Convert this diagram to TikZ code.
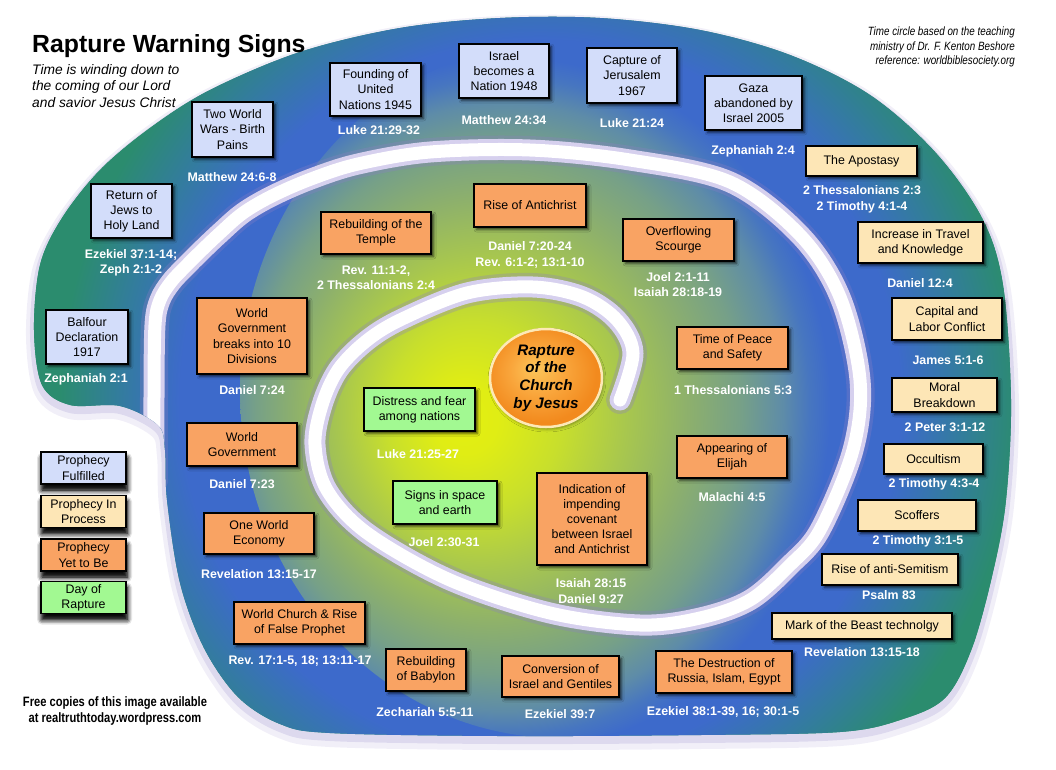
\documentclass[tikz,border=0pt]{standalone}
\usepackage{fontspec}
\setmainfont{Liberation Sans}
\newfontfamily\narrowfont[FakeStretch=0.82]{Liberation Sans}
\usetikzlibrary{shapes.geometric, shadows.blur}

% colours
\definecolor{colFulfilled}{HTML}{D3DDFA}
\definecolor{colProcess}{HTML}{FDE6B6}
\definecolor{colYetBe}{HTML}{F9A363}
\definecolor{colRapture}{HTML}{A2F992}
\definecolor{bandteal}{HTML}{2B8C6E}
\definecolor{bandblue}{HTML}{3D6ACB}
\definecolor{bandmid}{HTML}{337C9E}
\definecolor{groovedark}{HTML}{8C7EC6}
\definecolor{groovelight}{HTML}{D6D0EE}
\definecolor{raptrim}{HTML}{FDE9B6}

% the edge of a shaded ellipse sits at 25bp
\pgfdeclareradialshading{outerband}{\pgfpointorigin}{color(0bp)=(bandblue); color(15bp)=(bandblue); color(17.5bp)=(bandmid); color(20bp)=(bandteal); color(50bp)=(bandteal)}
\pgfdeclareradialshading{innerglow}{\pgfpoint{-7.8bp}{-2.2bp}}{color(0bp)=(rgb,255:red,228;green,239;blue,16); color(2.5bp)=(rgb,255:red,224;green,237;blue,20); color(6.8bp)=(rgb,255:red,200;green,223;blue,44); color(11.2bp)=(rgb,255:red,168;green,199;blue,78); color(15.4bp)=(rgb,255:red,141;green,176;blue,108); color(19bp)=(rgb,255:red,118;green,160;blue,136); color(21.8bp)=(rgb,255:red,94;green,140;blue,168); color(23.6bp)=(rgb,255:red,71;green,118;blue,192); color(25bp)=(bandblue); color(50bp)=(bandblue)}
\pgfdeclareradialshading{rapturefill}{\pgfpoint{-5bp}{5bp}}{color(0bp)=(rgb,255:red,252;green,198;blue,90); color(12bp)=(rgb,255:red,249;green,166;blue,60); color(25bp)=(rgb,255:red,242;green,138;blue,30); color(50bp)=(rgb,255:red,242;green,138;blue,30)}

\tikzset{
  signbox/.style={draw=black, line width=1.1pt, align=center, inner sep=1pt,
    font=\fontsize{12.4}{15.2}\selectfont,
    blur shadow={shadow xshift=2.5pt, shadow yshift=-2.5pt, shadow blur radius=2.5pt, shadow opacity=70}},
  boxsize/.style 2 args={minimum width=#1pt, minimum height=#2pt},
  fulfilled/.style={signbox, fill=colFulfilled},
  inprocess/.style={signbox, fill=colProcess},
  yetbe/.style={signbox, fill=colYetBe},
  rapturebox/.style={signbox, fill=colRapture},
  legendbox/.style={signbox, inner sep=0pt, boxsize={85}{32},
    blur shadow={shadow xshift=1pt, shadow yshift=-6pt, shadow blur radius=5pt, shadow opacity=85}},
  verse/.style={text=white, align=center, inner sep=0pt, font=\bfseries\fontsize{12.4}{15.5}\selectfont},
  groovehalo/.style={draw=groovedark, line width=28pt, opacity=0.3, line cap=round, line join=round},
  grooveedge/.style={draw=groovelight, line width=21pt, line cap=round, line join=round},
  groovecore/.style={draw=white, line width=13pt, line cap=round, line join=round},
}

\def\blobpath{plot[smooth cycle, tension=0.55] coordinates {(158,425) (120,406) (70,405) (42,385) (34,330) (40,265) (62,218) (100,170) (150,128) (210,90) (300,52) (400,28) (500,18) (600,18) (700,30) (790,55) (870,95) (935,152) (982,218) (1003,285) (1011,400) (1006,500) (993,572) (972,648) (945,698) (900,720) (840,732) (700,735) (500,736) (330,733) (280,724) (238,697) (204,648) (180,583) (167,500) (165,450)}}
\def\groovepath{plot[smooth, tension=0.55] coordinates {(154,480) (154,397) (155,325) (160,300) (171,282) (185,267) (201,251) (220,233) (243,213) (272,196) (311,179) (358,164) (430,152) (530,150) (630,160) (730,182) (800,235) (840,297) (860,380) (853,450) (820,530) (790,565) (750,600) (700,618) (640,625) (550,613) (450,580) (367,533) (327,490) (315,445) (322,405) (338,370) (365,342) (400,320) (467,293) (533,287) (583,297) (617,320) (633,353) (620,400)}}

\begin{document}
\begin{tikzpicture}[x=1pt, y=-1pt]
    \useasboundingbox (0,0) rectangle (1056,769);

    % Shadow under the time circle
    \draw[groovedark, line width=16pt, opacity=0.12, yshift=-6pt] \blobpath;
    \draw[groovedark, line width=8pt, opacity=0.2, yshift=-4pt] \blobpath;

    % Time circle and its spiral groove
    \begin{scope}
        \clip \blobpath;
        \fill[bandteal] (0,0) rectangle (1056,769);
        \shade[shading=outerband] (540,400) ellipse [x radius=600, y radius=600];
        \shade[shading=innerglow] (560,390) ellipse [x radius=320, y radius=348];
        \draw[groovehalo] \groovepath;
        \draw[grooveedge] \groovepath;
        \draw[groovecore] \groovepath;
    \end{scope}

    % Titles
    \node[anchor=base west, inner sep=0pt, font=\bfseries\fontsize{24.8}{29}\selectfont] (title) at (32,52) {Rapture Warning Signs};
    \node[anchor=north west, align=left, inner sep=0pt, font=\itshape\fontsize{13.8}{16.7}\selectfont] (subtitle) at (32,64) {Time is winding down to\\the coming of our Lord\\and savior Jesus Christ};
    \node[anchor=north east, align=right, inner sep=0pt, font=\narrowfont\itshape\fontsize{12}{14.5}\selectfont] (credit) at (1015,27) {Time circle based on the teaching\\ministry of Dr. F. Kenton Beshore\\reference: worldbiblesociety.org};
    \node[align=center, inner sep=0pt, font=\narrowfont\bfseries\fontsize{13.6}{16}\selectfont] (freecopies) at (115,711) {Free copies of this image available\\at realtruthtoday.wordpress.com};

    % Prophecy fulfilled
    \node[fulfilled, boxsize={82}{54}] (balfour) at (87,337) {Balfour\\Declaration\\1917};
    \node[fulfilled, boxsize={81}{54}] (jews) at (131.5,211) {Return of\\Jews to\\Holy Land};
    \node[fulfilled, boxsize={81}{55}] (wars) at (232.5,129.5) {Two World\\Wars - Birth\\Pains};
    \node[fulfilled, boxsize={91}{53}] (nations) at (375.5,89.5) {Founding of\\United\\Nations 1945};
    \node[fulfilled, boxsize={90}{54}] (israel) at (504,71) {Israel\\becomes a\\Nation 1948};
    \node[fulfilled, boxsize={90}{55}] (jerusalem) at (632,75.5) {Capture of\\Jerusalem\\1967};
    \node[fulfilled, boxsize={97}{54}] (gaza) at (753.5,103) {Gaza\\abandoned by\\Israel 2005};

    % Prophecy in process
    \node[inprocess, boxsize={111}{30}] (apostasy) at (861.5,161) {The Apostasy};
    \node[inprocess, boxsize={125}{41}] (travel) at (920.5,242.5) {Increase in Travel\\and Knowledge};
    \node[inprocess, boxsize={110}{42}] (labor) at (947,319) {Capital and\\Labor Conflict};
    \node[inprocess, boxsize={105}{34}] (moral) at (944.5,395) {Moral\\Breakdown};
    \node[inprocess, boxsize={99}{30}] (occult) at (933.5,459) {Occultism};
    \node[inprocess, boxsize={118}{31}] (scoffers) at (917,515.5) {Scoffers};
    \node[inprocess, boxsize={136}{31}] (semitism) at (890,569.5) {Rise of anti-Semitism};
    \node[inprocess, boxsize={180}{26}] (beast) at (862,626) {Mark of the Beast technolgy};

    % Prophecy yet to be
    \node[yetbe, boxsize={136}{42}] (destruction) at (724,672) {The Destruction of\\Russia, Islam, Egypt};
    \node[yetbe, boxsize={117}{41}] (conversion) at (560.5,676.5) {Conversion of\\Israel and Gentiles};
    \node[yetbe, boxsize={80}{42}] (babylon) at (426,670) {Rebuilding\\of Babylon};
    \node[yetbe, boxsize={131}{42}] (church) at (299.5,623) {World Church \& Rise\\of False Prophet};
    \node[yetbe, boxsize={110}{41}] (economy) at (259,533.5) {One World\\Economy};
    \node[yetbe, boxsize={110}{43}] (worldgov) at (242,444.5) {World\\Government};
    \node[yetbe, boxsize={110}{76}] (divisions) at (252,336) {World\\Government\\breaks into 10\\Divisions};
    \node[yetbe, boxsize={110}{42}] (temple) at (376,233) {Rebuilding of the\\Temple};
    \node[yetbe, boxsize={112}{43}] (antichrist) at (530,205.5) {Rise of Antichrist};
    \node[yetbe, boxsize={111}{42}] (scourge) at (678.5,240) {Overflowing\\Scourge};
    \node[yetbe, boxsize={111}{42}] (peace) at (732.5,348) {Time of Peace\\and Safety};
    \node[yetbe, boxsize={110}{42}] (elijah) at (732,457) {Appearing of\\Elijah};
    \node[yetbe, boxsize={110}{92}] (covenant) at (592,519) {Indication of\\impending\\covenant\\between Israel\\and Antichrist};

    % Day of rapture
    \node[rapturebox, boxsize={111}{43}] (distress) at (419.5,409.5) {Distress and fear\\among nations};
    \node[rapturebox, boxsize={104}{43}] (signs) at (445,502.5) {Signs in space\\and earth};
    \node[ellipse, minimum width=112pt, minimum height=98pt, inner sep=0pt, shade, shading=rapturefill,
          draw=raptrim, line width=2.5pt, align=center, font=\bfseries\itshape\fontsize{15.2}{17.7}\selectfont,
          blur shadow={shadow xshift=1pt, shadow yshift=-2pt, shadow blur radius=3pt, shadow opacity=40}]
          (rapture) at (546,378) {Rapture\\of the\\Church\\by Jesus};

    % Scripture references
    \node[verse] (balfourref) at (86,379) {Zephaniah 2:1};
    \node[verse] (jewsref) at (131,263) {Ezekiel 37:1-14;\\Zeph 2:1-2};
    \node[verse] (warsref) at (232,177) {Matthew 24:6-8};
    \node[verse] (nationsref) at (379,130) {Luke 21:29-32};
    \node[verse] (israelref) at (504,120) {Matthew 24:34};
    \node[verse] (jerusalemref) at (632,123) {Luke 21:24};
    \node[verse] (gazaref) at (753,151) {Zephaniah 2:4};
    \node[verse] (apostasyref) at (862,199.5) {2 Thessalonians 2:3\\2 Timothy 4:1-4};
    \node[verse] (travelref) at (920,283) {Daniel 12:4};
    \node[verse] (laborref) at (948,360) {James 5:1-6};
    \node[verse] (moralref) at (945,427) {2 Peter 3:1-12};
    \node[verse] (occultref) at (934,484) {2 Timothy 4:3-4};
    \node[verse] (scoffersref) at (918,541) {2 Timothy 3:1-5};
    \node[verse] (semitismref) at (889,595) {Psalm 83};
    \node[verse] (beastref) at (862,652) {Revelation 13:15-18};
    \node[verse] (destructionref) at (723,712) {Ezekiel 38:1-39, 16; 30:1-5};
    \node[verse] (conversionref) at (560,714) {Ezekiel 39:7};
    \node[verse] (babylonref) at (425,712) {Zechariah 5:5-11};
    \node[verse] (churchref) at (300,661) {Rev. 17:1-5, 18; 13:11-17};
    \node[verse] (economyref) at (259,574) {Revelation 13:15-17};
    \node[verse] (worldgovref) at (242,484) {Daniel 7:23};
    \node[verse] (divisionsref) at (252,390) {Daniel 7:24};
    \node[verse] (templeref) at (376,277.5) {Rev. 11:1-2,\\2 Thessalonians 2:4};
    \node[verse] (antichristref) at (530,255) {Daniel 7:20-24\\Rev. 6:1-2; 13:1-10};
    \node[verse] (scourgeref) at (678,284.5) {Joel 2:1-11\\Isaiah 28:18-19};
    \node[verse] (peaceref) at (733,390) {1 Thessalonians 5:3};
    \node[verse] (elijahref) at (732,497) {Malachi 4:5};
    \node[verse] (covenantref) at (591,591) {Isaiah 28:15\\Daniel 9:27};
    \node[verse] (distressref) at (418,454) {Luke 21:25-27};
    \node[verse] (signsref) at (444,542) {Joel 2:30-31};

    % Legend
    \node[legendbox, fill=colFulfilled] (keyfulfilled) at (83.5,468) {Prophecy\\Fulfilled};
    \node[legendbox, fill=colProcess] (keyprocess) at (83.5,511.5) {Prophecy In\\Process};
    \node[legendbox, fill=colYetBe] (keyyetbe) at (83.5,555) {Prophecy\\Yet to Be};
    \node[legendbox, fill=colRapture] (keyrapture) at (83.5,597.5) {Day of\\Rapture};
\end{tikzpicture}
\end{document}
